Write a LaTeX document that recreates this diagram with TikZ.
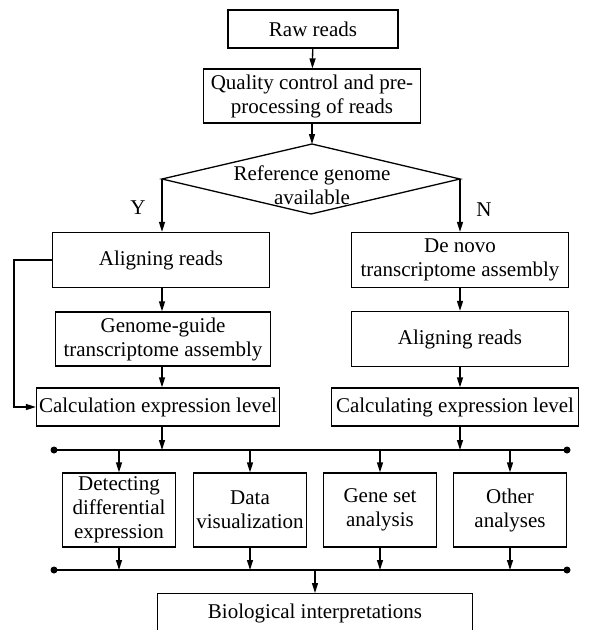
\documentclass[tikz,border=0pt]{standalone}
\usepackage{fontspec}
\setmainfont{Liberation Serif}
\usetikzlibrary{arrows.meta}
\tikzset{
  txt/.style={font=\fontsize{21}{24}\selectfont,align=center},
  box/.style={txt,draw,line width=1.3pt,inner sep=2pt},
  arr/.style={-{Triangle[length=10pt,width=6pt]},line width=1.3pt},
  dot/.style={circle,fill,inner sep=0pt,minimum size=7pt},
}
\begin{document}
\begin{tikzpicture}[x=1pt,y=-1pt]
\useasboundingbox (0,0) rectangle (592,630);
% top
\node[box,minimum width=170,minimum height=38] (raw) at (313,29) {Raw reads};
\node[box,minimum width=217,minimum height=54] (qc) at (312,96) {Quality control and pre-\\processing of reads};
% decision
\coordinate (dT) at (312,144);
\coordinate (dB) at (311,214);
\coordinate (dL) at (162,179);
\coordinate (dR) at (460,179);
\draw[line width=1.3pt] (dT) -- (dR) -- (dB) -- (dL) -- cycle;
\node[txt] (ref) at (312,185) {Reference genome\\available};
\node[txt] (yes) at (138,208) {Y};
\node[txt] (no) at (484,210) {N};
% left branch
\node[box,minimum width=217,minimum height=55] (alignL) at (161,260) {Aligning reads};
\node[box,minimum width=215,minimum height=54] (guide) at (163,339) {Genome-guide\\transcriptome assembly};
\node[box,minimum width=243,minimum height=38] (calcL) at (158,407) {Calculation expression level};
% right branch
\node[box,minimum width=217,minimum height=55] (denovo) at (460,260) {De novo\\transcriptome assembly};
\node[box,minimum width=217,minimum height=55] (alignR) at (460,339) {Aligning reads};
\node[box,minimum width=247,minimum height=38] (calcR) at (455,407) {Calculating expression level};
% buses
\coordinate (b1L) at (54,450);
\coordinate (b1R) at (567,450);
\coordinate (b2L) at (54,570);
\coordinate (b2R) at (567,570);
\draw[line width=1.3pt] (b1L) -- (b1R);
\draw[line width=1.3pt] (b2L) -- (b2R);
\node[dot] at (b1L) {};
\node[dot] at (b1R) {};
\node[dot] at (b2L) {};
\node[dot] at (b2R) {};
% analyses
\node[box,minimum width=113,minimum height=74] (diff) at (119,510) {Detecting\\differential\\expression};
\node[box,minimum width=113,minimum height=74] (vis) at (250,510) {Data\\visualization};
\node[box,minimum width=113,minimum height=74] (gset) at (380,510) {Gene set\\analysis};
\node[box,minimum width=113,minimum height=74] (other) at (510,510) {Other\\analyses};
\node[box,minimum width=315,text height=23pt,text depth=20pt,anchor=north] (bio) at (315,593) {Biological interpretations};
% connectors
\draw[arr] (raw) -- (qc);
\draw[arr] (qc) -- (dT);
\draw[arr] (dL) -- (dL |- alignL.north);
\draw[arr] (dR) -- (denovo.north);
\draw[arr] (dL |- alignL.south) -- (dL |- guide.north);
\draw[arr] (dL |- guide.south) -- (dL |- calcL.north);
\draw[arr] (alignL.west) -- ++(-38,0) |- (calcL.west);
\draw[arr] (denovo) -- (alignR);
\draw[arr] (alignR) -- (alignR.south |- calcR.north);
\draw[arr] (dL |- calcL.south) -- (dL |- b1L);
\draw[arr] (alignR.south |- calcR.south) -- (alignR.south |- b1L);
\draw[arr] (diff.north |- b1L) -- (diff.north);
\draw[arr] (vis.north |- b1L) -- (vis.north);
\draw[arr] (gset.north |- b1L) -- (gset.north);
\draw[arr] (other.north |- b1L) -- (other.north);
\draw[arr] (diff.south) -- (diff.south |- b2L);
\draw[arr] (vis.south) -- (vis.south |- b2L);
\draw[arr] (gset.south) -- (gset.south |- b2L);
\draw[arr] (other.south) -- (other.south |- b2L);
\draw[arr] (bio.north |- b2L) -- (bio.north);
\end{tikzpicture}
\end{document}
